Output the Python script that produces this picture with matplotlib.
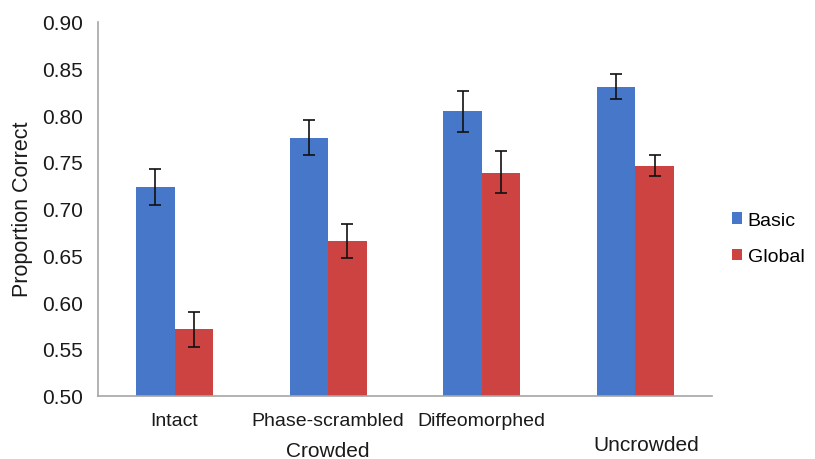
import numpy as np
import matplotlib
matplotlib.use("Agg")
import matplotlib.pyplot as plt
import matplotlib.transforms as mtransforms

plt.rcParams["font.family"] = ["Liberation Sans", "DejaVu Sans"]

# ── Data ─────────────────────────────────────────────────────────────────────
categories = ["Intact", "Phase-scrambled", "Diffeomorphed", ""]
basic = [0.723, 0.776, 0.804, 0.830]
basic_err_lo = [0.704, 0.757, 0.782, 0.817]
basic_err_hi = [0.742, 0.795, 0.826, 0.844]
global_ = [0.571, 0.665, 0.738, 0.746]
global_err_lo = [0.552, 0.647, 0.717, 0.735]
global_err_hi = [0.590, 0.684, 0.762, 0.757]
yticks = [0.50, 0.55, 0.60, 0.65, 0.70, 0.75, 0.80, 0.85, 0.90]

BLUE = "#4677C8"
RED = "#CD4341"
TXT = "#1a1a1a"
BAR_W = 0.25

fig = plt.figure(figsize=(8.15, 4.6), dpi=100)
ax = fig.add_axes([0.120, 0.1376, 0.754, 0.813])

x = np.arange(len(categories))
b_err = [np.array(basic) - np.array(basic_err_lo), np.array(basic_err_hi) - np.array(basic)]
g_err = [np.array(global_) - np.array(global_err_lo), np.array(global_err_hi) - np.array(global_)]

ekw = dict(ecolor="#111111", elinewidth=1.2, capthick=1.2)
ax.bar(x - BAR_W / 2, basic, width=BAR_W, color=BLUE, label="Basic",
       yerr=b_err, capsize=4, error_kw=ekw)
ax.bar(x + BAR_W / 2, global_, width=BAR_W, color=RED, label="Global",
       yerr=g_err, capsize=4, error_kw=ekw)

ax.set_xlim(-0.5, len(categories) - 0.5)
ax.set_ylim(0.50, 0.90)
ax.set_yticks(yticks)
ax.set_yticklabels([f"{v:.2f}" for v in yticks], fontsize=15, color=TXT)
ax.set_xticks(x)
ax.set_xticklabels(categories, fontsize=14, color=TXT)
ax.tick_params(axis="both", length=0)
ax.tick_params(axis="y", pad=11)
ax.tick_params(axis="x", pad=12)

for side in ["top", "right"]:
    ax.spines[side].set_visible(False)
for side in ["left", "bottom"]:
    ax.spines[side].set_color("#A6A6A6")
    ax.spines[side].set_linewidth(1.2)

ax.set_ylabel("Proportion Correct", fontsize=15.5, color=TXT, labelpad=6)

# second-level group labels
trans = mtransforms.blended_transform_factory(ax.transData, fig.transFigure)
ax.text(1.0, 1 - 452 / 460, "Crowded", transform=trans, ha="center", va="center",
        fontsize=15, color=TXT)
ax.text(3.07, 1 - 446 / 460, "Uncrowded", transform=trans, ha="center", va="center",
        fontsize=15, color=TXT)

ax.legend(loc="center left", bbox_to_anchor=(1.01, 0.42), frameon=False,
          fontsize=14, handlelength=0.5, handleheight=0.5, handletextpad=0.3,
          labelspacing=1.0, borderpad=0.2)

fig.savefig("out.png", dpi=100)
